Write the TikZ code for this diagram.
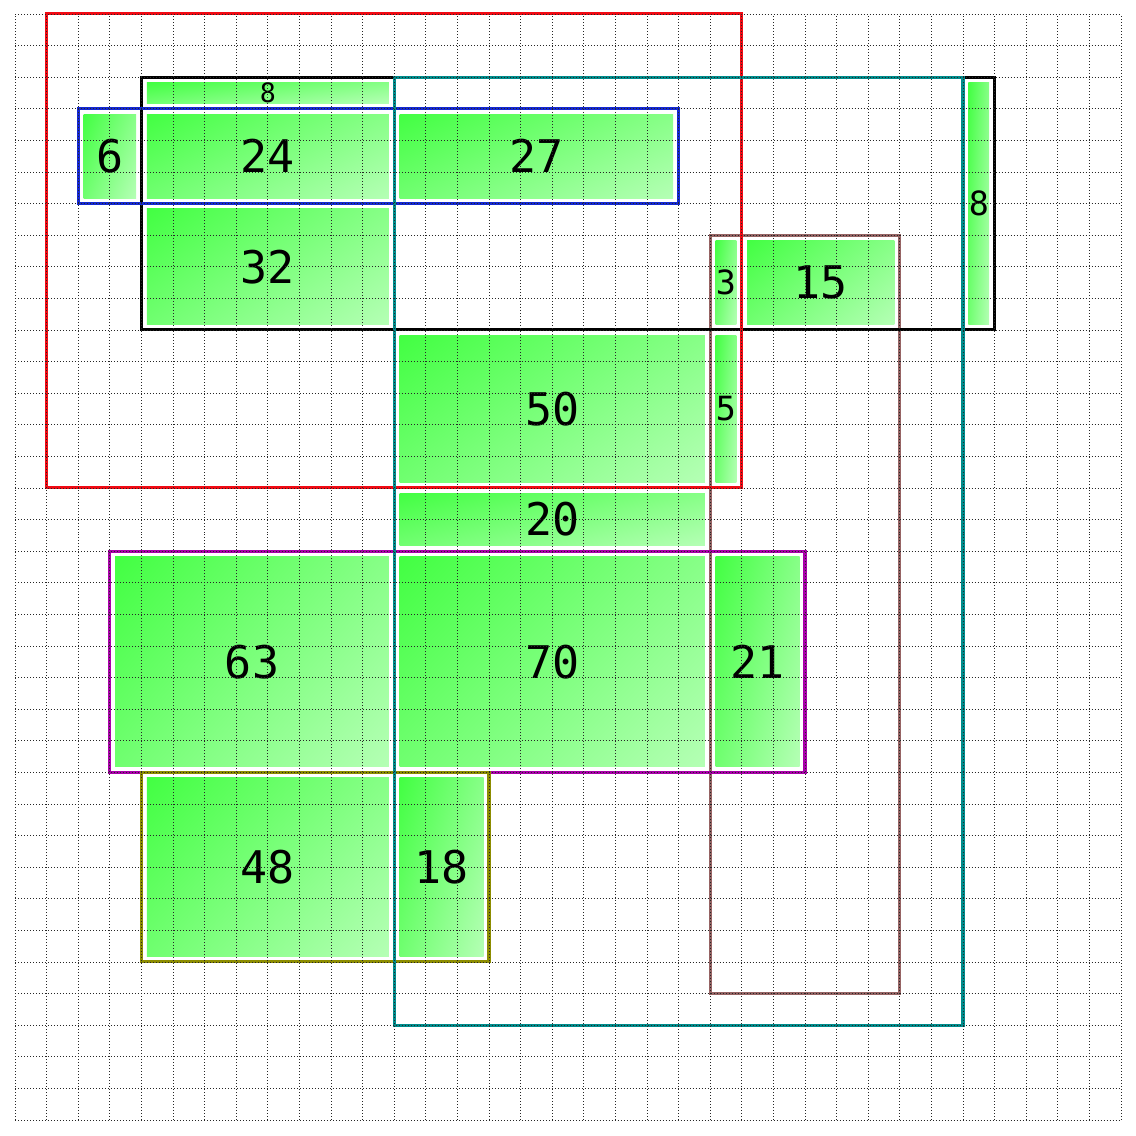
\documentclass[tikz,border=0pt]{standalone}
\usepackage{fontspec}
\newfontfamily\numfont{DejaVu Sans Mono}
\definecolor{frred}{RGB}{240,10,20}
\definecolor{frblue}{RGB}{20,40,210}
\definecolor{frteal}{RGB}{0,140,140}
\definecolor{frbrown}{RGB}{150,100,100}
\definecolor{frpurple}{RGB}{170,0,170}
\definecolor{frolive}{RGB}{140,140,0}
\pgfdeclarefunctionalshading{diaggreen}{\pgfpointorigin}{\pgfpoint{100bp}{100bp}}{}{-0.008 mul exch 0.012 mul add 0.3 add 0.45 mul 0.26 add dup 1 exch}
\newcommand\gbox[7]{%
  \shade[boxshade] (#1+0.17,-#2-0.17) rectangle (#3-0.17,-#4+0.17);
  \node[#7] (#5) at ({(#1+#3)/2},{-(#2+#4)/2}) {#6};}
\tikzset{
  boxshade/.style={shading=diaggreen, draw=none},
  lblbig/.style={font=\numfont\fontsize{40.5}{40.5}\selectfont, inner sep=0pt},
  lblmid/.style={font=\numfont\fontsize{30}{30}\selectfont, inner sep=0pt},
  lblsmall/.style={font=\numfont\fontsize{24}{24}\selectfont, inner sep=0pt},
  frame/.style={line width=2.8pt},
  gridline/.style={line width=0.6pt, dash pattern=on 0.6pt off 2.1pt, black!85}
}
\begin{document}
\begin{tikzpicture}
\useasboundingbox (-0.475,0.44) rectangle (35.475,-35.5);
% green boxes
\gbox{4}{2}{12}{3}{b8a}{8}{lblsmall}
\gbox{2}{3}{4}{6}{b6}{6}{lblbig}
\gbox{4}{3}{12}{6}{b24}{24}{lblbig}
\gbox{12}{3}{21}{6}{b27}{27}{lblbig}
\gbox{4}{6}{12}{10}{b32}{32}{lblbig}
\gbox{30}{2}{31}{10}{b8b}{8}{lblmid}
\gbox{22}{7}{23}{10}{b3}{3}{lblmid}
\gbox{23}{7}{28}{10}{b15}{15}{lblbig}
\gbox{12}{10}{22}{15}{b50}{50}{lblbig}
\gbox{22}{10}{23}{15}{b5}{5}{lblmid}
\gbox{12}{15}{22}{17}{b20}{20}{lblbig}
\gbox{3}{17}{12}{24}{b63}{63}{lblbig}
\gbox{12}{17}{22}{24}{b70}{70}{lblbig}
\gbox{22}{17}{25}{24}{b21}{21}{lblbig}
\gbox{4}{24}{12}{30}{b48}{48}{lblbig}
\gbox{12}{24}{15}{30}{b18}{18}{lblbig}
% frames
\draw[frame, frbrown] (22,-7) rectangle (28,-31);
\draw[frame, black] (4,-2) rectangle (31,-10);
\draw[frame, frred] (1,0) rectangle (23,-15);
\draw[frame, frblue] (2,-3) rectangle (21,-6);
\draw[frame, frpurple] (3,-17) rectangle (25,-24);
\draw[frame, frolive] (4,-24) rectangle (15,-30);
\draw[frame, frteal] (12,-2) rectangle (30,-32);
% grid
\draw[gridline] (0,0) grid (35,-35);
\end{tikzpicture}
\end{document}
